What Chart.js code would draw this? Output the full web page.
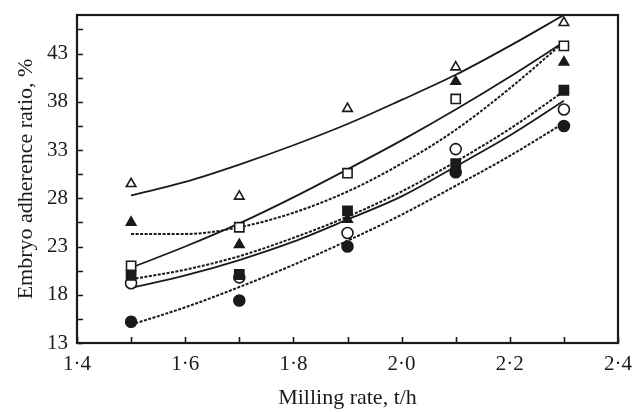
<!DOCTYPE html>
<html>
<head>
<meta charset="utf-8">
<script src="https://cdn.jsdelivr.net/npm/chart.js@4.4.1/dist/chart.umd.min.js"></script>
<style>
  html, body { margin: 0; padding: 0; background: #fff; }
  #wrap { width: 634px; height: 412px; }
</style>
</head>
<body>
<div id="wrap"><canvas id="chart" width="634" height="412"></canvas></div>
<script>
// Measured points (milling rate, t/h)
const rates = [1.5, 1.7, 1.9, 2.1, 2.3];
const openTriangle = [29.5, 28.2, 37.3, 41.6, 46.2];
const filledTriangle = [25.5, 23.2, 25.8, 40.1, 42.1];
const openSquare = [21.0, 25.0, 30.6, 38.3, 43.8];
const filledSquare = [20.0, 20.1, 26.7, 31.6, 39.2];
const openCircle = [19.2, 19.8, 24.4, 33.1, 37.2];
const filledCircle = [15.2, 17.4, 23.0, 30.7, 35.5];

const curveRates = [1.5, 1.6, 1.7, 1.8, 1.9, 2.0, 2.1, 2.2, 2.3];
const openTriangleFit = [28.3, 29.7, 31.5, 33.5, 35.7, 38.2, 40.8, 43.8, 47.0];
const filledTriangleFit = [24.3, 24.3, 25.0, 26.5, 28.7, 31.6, 35.1, 39.4, 44.2];
const openSquareFit = [20.8, 23.0, 25.4, 28.1, 31.0, 34.0, 37.2, 40.6, 44.2];
const filledSquareFit = [19.6, 20.6, 22.0, 23.9, 26.1, 28.7, 31.8, 35.2, 39.1];
const openCircleFit = [18.7, 20.0, 21.6, 23.5, 25.8, 28.2, 31.3, 34.5, 38.1];
const filledCircleFit = [14.9, 16.7, 18.8, 21.1, 23.6, 26.3, 29.3, 32.4, 35.8];

// Axis ticks
const xLabelTicks = [1.4, 1.6, 1.8, 2.0, 2.2, 2.4];
const xMinorTicks = [1.5, 1.7, 1.9, 2.1, 2.3];
const yLabelTicks = [13, 18, 23, 28, 33, 38, 43];
const yMinorTicks = [15.5, 20.5, 25.5, 30.5, 35.5, 40.5, 45.5];

const INK = "#1a1a1a";
const SERIF = "'Liberation Serif', 'DejaVu Serif', serif";

function pairs(xs, ys) {
  return xs.map((x, i) => ({ x: x, y: ys[i] }));
}

function markers(values, style, filled, radius, order) {
  return {
    data: pairs(rates, values),
    showLine: false,
    pointStyle: style,
    pointRadius: radius,
    pointHoverRadius: radius,
    pointBorderWidth: 1.6,
    pointBorderColor: INK,
    pointBackgroundColor: filled ? INK : "#ffffff",
    order: order
  };
}

function curve(values, dashed) {
  return {
    data: pairs(curveRates, values),
    showLine: true,
    borderColor: INK,
    borderWidth: dashed ? 2 : 1.8,
    borderDash: dashed ? [3, 1.5] : [],
    pointRadius: 0,
    cubicInterpolationMode: "monotone",
    fill: false,
    order: 5
  };
}

// Inward tick marks and the box round the plot
const frame = {
  id: "frame",
  afterDraw(chart) {
    const { ctx, chartArea: a, scales } = chart;
    ctx.save();
    ctx.strokeStyle = INK;
    ctx.lineWidth = 1.6;
    ctx.beginPath();
    xLabelTicks.concat(xMinorTicks).forEach(v => {
      const px = Math.round(scales.x.getPixelForValue(v)) + 0.5;
      ctx.moveTo(px, a.bottom);
      ctx.lineTo(px, a.bottom - 6);
    });
    yLabelTicks.concat(yMinorTicks).forEach(v => {
      const py = Math.round(scales.y.getPixelForValue(v)) + 0.5;
      ctx.moveTo(a.left, py);
      ctx.lineTo(a.left + 6, py);
    });
    ctx.stroke();
    ctx.lineWidth = 2.2;
    ctx.strokeRect(a.left, a.top, a.right - a.left, a.bottom - a.top);
    ctx.restore();
  }
};

new Chart(document.getElementById("chart"), {
  type: "scatter",
  data: {
    datasets: [
      markers(openTriangle, "triangle", false, 5.5, 1),
      markers(filledTriangle, "triangle", true, 5.5, 1),
      markers(openSquare, "rect", false, 6.5, 1),
      markers(filledSquare, "rect", true, 6.5, 0),
      markers(openCircle, "circle", false, 5.5, 1),
      markers(filledCircle, "circle", true, 5.5, 1),
      curve(openTriangleFit, false),
      curve(filledTriangleFit, true),
      curve(openSquareFit, false),
      curve(filledSquareFit, true),
      curve(openCircleFit, false),
      curve(filledCircleFit, true)
    ]
  },
  options: {
    responsive: false,
    animation: false,
    layout: { padding: { top: 15, right: 16, bottom: 0, left: 0 } },
    plugins: {
      legend: { display: false },
      tooltip: { enabled: false }
    },
    scales: {
      x: {
        type: "linear",
        min: 1.4,
        max: 2.4,
        grid: { display: false, drawTicks: false },
        border: { display: false },
        afterBuildTicks: s => { s.ticks = xLabelTicks.map(v => ({ value: v })); },
        afterFit: s => { s.height = 69; s.paddingLeft = 0; s.paddingRight = 0; },
        ticks: {
          padding: 9,
          color: INK,
          font: { family: SERIF, size: 21 },
          maxRotation: 0,
          callback: v => v.toFixed(1).replace(".", "\u00b7")
        },
        title: {
          display: true,
          text: "Milling rate, t/h",
          color: INK,
          font: { family: SERIF, size: 22 },
          padding: { top: 0, bottom: 1 }
        }
      },
      y: {
        type: "linear",
        min: 13,
        max: 47,
        grid: { display: false, drawTicks: false },
        border: { display: false },
        afterBuildTicks: s => { s.ticks = yLabelTicks.map(v => ({ value: v })); },
        afterFit: s => { s.width = 77; s.paddingTop = 0; s.paddingBottom = 0; },
        ticks: {
          padding: 9,
          color: INK,
          font: { family: SERIF, size: 21 },
          callback: v => String(v)
        },
        title: {
          display: true,
          text: "Embryo adherence ratio, %",
          color: INK,
          font: { family: SERIF, size: 22 },
          padding: { top: 13, bottom: 0 }
        }
      }
    }
  },
  plugins: [frame]
});
</script>
</body>
</html>
